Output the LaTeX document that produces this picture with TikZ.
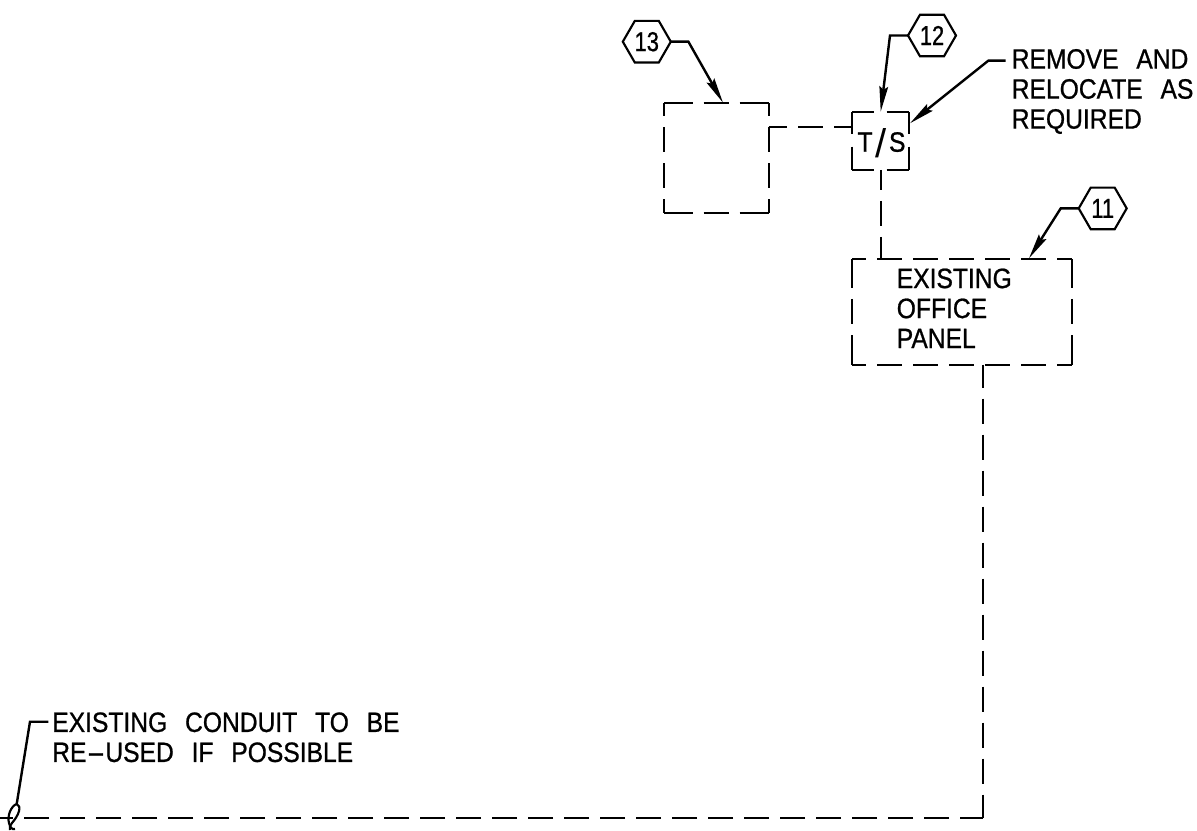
\documentclass[tikz,border=0pt]{standalone}
\usepackage{fontspec}
\usepackage{tikz}
\usetikzlibrary{arrows.meta,shapes.geometric}
\newfontfamily\cadfont[FakeStretch=0.88,WordSpace=2.6,FakeBold=0.8]{Liberation Sans}
\newfontfamily\cadnum[FakeStretch=0.8,FakeBold=0.8]{Liberation Sans}
\newfontfamily\cadslash{Liberation Sans}
\tikzset{
	cadtext/.style={inner sep=0pt,align=left,font=\cadfont\fontsize{21}{22.5}\selectfont},
	hexnum/.style={draw,regular polygon,regular polygon sides=6,minimum size=36pt,inner sep=0pt,outer sep=0pt,line width=1.6pt,font=\cadnum\fontsize{20.5}{20.5}\selectfont},
	boxarea/.style={inner sep=0pt,outer sep=0pt},
	wire/.style={line width=1.6pt,dash pattern=on 18.75pt off 8.25pt},
	wirelong/.style={line width=1.6pt,dash pattern=on 21.5pt off 8.25pt on 18.75pt off 8.25pt on 23pt off 9pt},
	wireshort/.style={wire,dash phase=9pt},
	wirets/.style={line width=1.6pt,dash pattern=on 16.5pt off 9.25pt on 18pt off 9pt},
	wirepanel/.style={wire,dash phase=8.25pt},
	leader/.style={line width=1.8pt,-{Stealth[length=19pt,width=6.5pt,inset=2.5pt]}},
	plainleader/.style={line width=1.8pt},
}
\begin{document}
\begin{tikzpicture}[x=0.75pt,y=-0.75pt]
	\useasboundingbox (0,0) rectangle (1197,831);
	% boxes
	\node[boxarea,minimum width=78.5pt,minimum height=82.3pt] (blank) at (716.4,158.2) {};
	\node[boxarea,minimum width=42.5pt,minimum height=43.3pt] (ts) at (880.7,141.2) {};
	\node[boxarea,minimum width=164.5pt,minimum height=79pt] (panel) at (962,312) {};
	\foreach \boxname/\acrossstyle/\downstyle in {blank/wirelong/wireshort,ts/wirets/wirets,panel/wirepanel/wirelong}{
		\draw[\acrossstyle] (\boxname.north west) -- (\boxname.north east);
		\draw[\acrossstyle] (\boxname.south west) -- (\boxname.south east);
		\draw[\downstyle] (\boxname.north west) -- (\boxname.south west);
		\draw[\downstyle] (\boxname.north east) -- (\boxname.south east);
	}
	% texts
	\node[cadtext,anchor=base] (tslabel) at (881.5,151.7) {T\kern2pt\raisebox{-4.5pt}{\cadslash\fontsize{30}{30}\selectfont /}\kern2pt S};
	\node[cadtext,anchor=west] (panellabel) at (896.5,308.3) {EXISTING\\OFFICE\\PANEL};
	\node[cadtext,anchor=west] (removelabel) at (1011.5,91.5) {REMOVE AND\\RELOCATE AS\\REQUIRED};
	\node[cadtext,anchor=west] (conduitlabel) at (52,737.3) {EXISTING CONDUIT TO BE\\RE\scalebox{2.3}[1]{-}USED IF POSSIBLE};
	% callouts
	\node[hexnum] (h13) at (646.8,41.7) {13};
	\node[hexnum] (h12) at (932,35.5) {12};
	\node[hexnum] (h11) at (1102.7,208.4) {11};
	\coordinate (e13) at (688.4,41.7);
	\coordinate (t13) at (723,102.7);
	\coordinate (e12) at (890,35.5);
	\coordinate (t12) at (880.7,111.7);
	\coordinate (e11) at (1060.7,208.4);
	\coordinate (t11) at (1029,258.3);
	\coordinate (sremove) at (1005.7,60.7);
	\coordinate (eremove) at (988.3,60.7);
	\coordinate (tremove) at (910,123.3);
	\draw[leader] (h13.east) -- (e13) -- (t13);
	\draw[leader] (h12.west) -- (e12) -- (t12);
	\draw[leader] (h11.west) -- (e11) -- (t11);
	\draw[leader] (sremove) -- (eremove) -- (tremove);
	% conduit
	\coordinate (blankexit) at (768.7,126.7);
	\coordinate (tsin) at (852.3,126.7);
	\coordinate (tsexit) at (880.7,170);
	\coordinate (paneltop) at (880.7,259.3);
	\coordinate (panelexit) at (983,364.7);
	\coordinate (corner) at (983,818);
	\coordinate (conduitend) at (0,818);
	\draw[wire,dash phase=4.75pt] (blankexit) -- (tsin);
	\draw[wire,dash phase=3.75pt] (tsexit) -- (paneltop);
	\draw[wire,dash phase=1.5pt] (panelexit) -- (corner);
	\draw[wire,dash phase=1.5pt] (corner) -- (conduitend);
	% break mark
	\coordinate (sconduit) at (48.3,721.7);
	\coordinate (ekink) at (30,721.7);
	\coordinate (bmark) at (16.7,804);
	\draw[plainleader] (sconduit) -- (ekink) -- (bmark);
	\draw[line width=1.6pt] (bmark) .. controls (22,806) and (19,815) .. (12,823) .. controls (10,826) and (9,828) .. (10,830);
	\draw[line width=1.6pt] (bmark) .. controls (11,806) and (7,816) .. (9,823) .. controls (10,827) and (12,830) .. (15,829);
\end{tikzpicture}
\end{document}
